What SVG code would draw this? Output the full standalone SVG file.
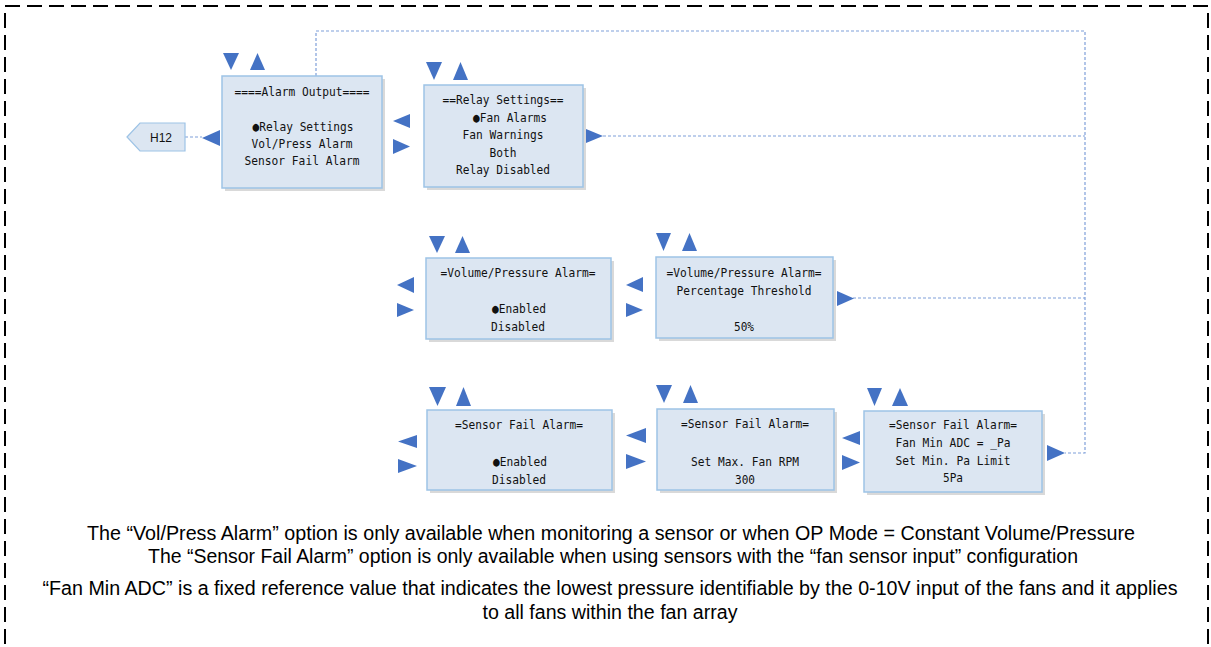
<svg xmlns="http://www.w3.org/2000/svg" width="1211" height="647" viewBox="0 0 1211 647">
<style>
.box{fill:#dce6f2;stroke:#9dc3e6;stroke-width:1.5}
.sh{fill:#bfbfbf;opacity:0.6}
.tri{fill:#4472c4}
.mono{font-family:"DejaVu Sans Mono","Liberation Mono",monospace;font-size:13px;fill:#111;text-anchor:middle}
.conn{fill:none;stroke:#7f9fd9;stroke-width:1.2;stroke-dasharray:3 2}
.note{font-family:"Liberation Sans",Arial,sans-serif;font-size:19.5px;fill:#000;text-anchor:middle}
</style>
<rect width="1211" height="647" fill="#fff"/>
<rect x="5" y="6" width="1203" height="700" fill="none" stroke="#000" stroke-width="2" stroke-dasharray="15 7"/>

<g id="connectors">
<path class="conn" d="M316 76 V31 H1085 V453 H1065"/>
<path class="conn" d="M603 136 H1085"/>
<path class="conn" d="M853 298 H1085"/>
<path class="conn" d="M185 137 H202"/>
</g>

<g id="h12">
<path d="M127 137 L140 123 H185 V151 H140 Z" fill="#dce6f2" stroke="#9dc3e6" stroke-width="1.2"/>
<text x="161" y="142" font-family="Liberation Sans,Arial,sans-serif" font-size="12" text-anchor="middle" fill="#111">H12</text>
</g>

<g id="alarm-output">
<rect class="sh" x="225" y="79" width="160" height="112"/>
<rect class="box" x="222" y="76" width="160" height="112"/>
<polygon class="tri" points="223,53 239,53 231,70"/>
<polygon class="tri" points="250,70 265,70 257.5,53"/>
<polygon class="tri" points="202,138 220,130 220,146"/>
<text class="mono" x="302" y="96" textLength="135" lengthAdjust="spacingAndGlyphs">====Alarm Output====</text>
<text class="mono" x="303" y="131" textLength="101" lengthAdjust="spacingAndGlyphs">●Relay Settings</text>
<text class="mono" x="302" y="148" textLength="101" lengthAdjust="spacingAndGlyphs">Vol/Press Alarm</text>
<text class="mono" x="302" y="165" textLength="115" lengthAdjust="spacingAndGlyphs">Sensor Fail Alarm</text>
</g>

<g id="relay-settings">
<rect class="sh" x="427" y="88" width="159" height="102"/>
<rect class="box" x="424" y="85" width="159" height="102"/>
<polygon class="tri" points="426,62 442,62 434,80"/>
<polygon class="tri" points="453,80 468,80 460.5,62"/>
<polygon class="tri" points="393,121 410,114 410,128"/>
<polygon class="tri" points="393,139 393,154 410,146.5"/>
<polygon class="tri" points="586,129 586,143 603,136"/>
<text class="mono" x="503" y="104" textLength="121" lengthAdjust="spacingAndGlyphs">==Relay Settings==</text>
<text class="mono" x="510" y="122" textLength="74" lengthAdjust="spacingAndGlyphs">●Fan Alarms</text>
<text class="mono" x="503" y="139" textLength="81" lengthAdjust="spacingAndGlyphs">Fan Warnings</text>
<text class="mono" x="503" y="157" textLength="27" lengthAdjust="spacingAndGlyphs">Both</text>
<text class="mono" x="503" y="174" textLength="94" lengthAdjust="spacingAndGlyphs">Relay Disabled</text>
</g>

<g id="vp-alarm">
<rect class="sh" x="429" y="261" width="185" height="81"/>
<rect class="box" x="426" y="258" width="185" height="81"/>
<polygon class="tri" points="429,236 445,236 437,253"/>
<polygon class="tri" points="455,253 470,253 462.5,236"/>
<polygon class="tri" points="397,285 414,277 414,293"/>
<polygon class="tri" points="397,303 397,317 414,310"/>
<text class="mono" x="518" y="277" textLength="155" lengthAdjust="spacingAndGlyphs">=Volume/Pressure Alarm=</text>
<text class="mono" x="519" y="313" textLength="54" lengthAdjust="spacingAndGlyphs">●Enabled</text>
<text class="mono" x="518" y="331" textLength="54" lengthAdjust="spacingAndGlyphs">Disabled</text>
</g>

<g id="vp-threshold">
<rect class="sh" x="659" y="260" width="177" height="81"/>
<rect class="box" x="656" y="257" width="177" height="81"/>
<polygon class="tri" points="656,233 671,233 663.5,251"/>
<polygon class="tri" points="682,251 697,251 689.5,233"/>
<polygon class="tri" points="626,285 643,277 643,292"/>
<polygon class="tri" points="626,303 626,317 643,310"/>
<polygon class="tri" points="837,291 837,306 854,298.5"/>
<text class="mono" x="744" y="277" textLength="155" lengthAdjust="spacingAndGlyphs">=Volume/Pressure Alarm=</text>
<text class="mono" x="744" y="295" textLength="135" lengthAdjust="spacingAndGlyphs">Percentage Threshold</text>
<text class="mono" x="744" y="331" textLength="20" lengthAdjust="spacingAndGlyphs">50%</text>
</g>

<g id="sf-alarm">
<rect class="sh" x="430" y="413" width="185" height="80"/>
<rect class="box" x="427" y="410" width="185" height="80"/>
<polygon class="tri" points="429,387 446,387 437.5,406"/>
<polygon class="tri" points="456,406 471,406 463.5,387"/>
<polygon class="tri" points="398,441.5 417,435 417,448"/>
<polygon class="tri" points="398,459 398,473 417,466"/>
<text class="mono" x="519" y="429" textLength="128" lengthAdjust="spacingAndGlyphs">=Sensor Fail Alarm=</text>
<text class="mono" x="520" y="466" textLength="54" lengthAdjust="spacingAndGlyphs">●Enabled</text>
<text class="mono" x="519" y="484" textLength="54" lengthAdjust="spacingAndGlyphs">Disabled</text>
</g>

<g id="sf-rpm">
<rect class="sh" x="660" y="412" width="177" height="81"/>
<rect class="box" x="657" y="409" width="177" height="81"/>
<polygon class="tri" points="656,385 672,385 664,403"/>
<polygon class="tri" points="683,403 698,403 690.5,385"/>
<polygon class="tri" points="626,435.5 646,428 646,443"/>
<polygon class="tri" points="626,454 626,469 646,461.5"/>
<text class="mono" x="745" y="428" textLength="128" lengthAdjust="spacingAndGlyphs">=Sensor Fail Alarm=</text>
<text class="mono" x="745" y="466" textLength="108" lengthAdjust="spacingAndGlyphs">Set Max. Fan RPM</text>
<text class="mono" x="745" y="484" textLength="20" lengthAdjust="spacingAndGlyphs">300</text>
</g>

<g id="sf-limit">
<rect class="sh" x="867" y="414" width="178" height="81"/>
<rect class="box" x="864" y="411" width="178" height="81"/>
<polygon class="tri" points="867,388 882,388 874.5,406"/>
<polygon class="tri" points="892,406 908,406 900,388"/>
<polygon class="tri" points="842,438 860,431 860,445"/>
<polygon class="tri" points="842,455 842,470 860,462.5"/>
<polygon class="tri" points="1047,445 1047,461 1065,453"/>
<text class="mono" x="953" y="429" textLength="128" lengthAdjust="spacingAndGlyphs">=Sensor Fail Alarm=</text>
<text class="mono" x="953" y="447" textLength="115" lengthAdjust="spacingAndGlyphs">Fan Min ADC = _Pa</text>
<text class="mono" x="953" y="465" textLength="115" lengthAdjust="spacingAndGlyphs">Set Min. Pa Limit</text>
<text class="mono" x="953" y="482" textLength="20" lengthAdjust="spacingAndGlyphs">5Pa</text>
</g>

<g id="notes">
<text class="note" x="611" y="540" textLength="1048" lengthAdjust="spacingAndGlyphs">The “Vol/Press Alarm” option is only available when monitoring a sensor or when OP Mode = Constant Volume/Pressure</text>
<text class="note" x="613" y="563" textLength="930" lengthAdjust="spacingAndGlyphs">The “Sensor Fail Alarm” option is only available when using sensors with the “fan sensor input” configuration</text>
<text class="note" x="610" y="595" textLength="1135" lengthAdjust="spacingAndGlyphs">“Fan Min ADC” is a fixed reference value that indicates the lowest pressure identifiable by the 0-10V input of the fans and it applies</text>
<text class="note" x="610" y="619" textLength="255" lengthAdjust="spacingAndGlyphs">to all fans within the fan array</text>
</g>
</svg>
